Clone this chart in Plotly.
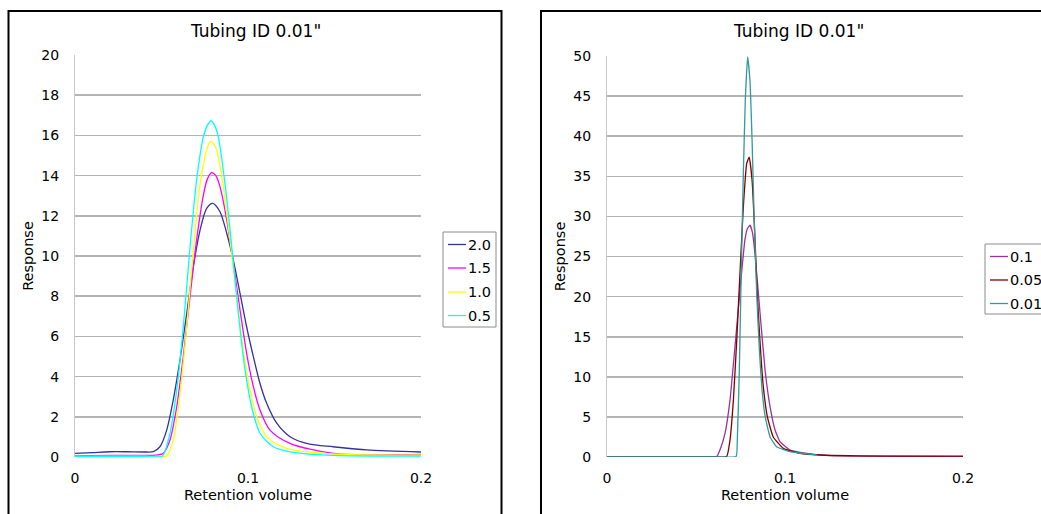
import plotly.graph_objects as go

W, H = 1041, 514

# ---------------- data ----------------
# Left chart: flow-rate series 2.0, 1.5, 1.0, 0.5
x_20 = [0, 0.01, 0.02, 0.03, 0.04, 0.0453, 0.0491, 0.0530, 0.0568, 0.0607, 0.0646, 0.0684, 0.0723,
        0.0761, 0.0796, 0.0838, 0.0877, 0.0915, 0.0954, 0.0992, 0.1031, 0.1069, 0.1108, 0.1166,
        0.1243, 0.1350, 0.1493, 0.1686, 0.2]
y_20 = [0.18, 0.22, 0.26, 0.26, 0.25, 0.27, 0.51, 1.34, 2.84, 4.83, 7.15, 9.47, 11.29,
        12.37, 12.62, 12.2, 11.13, 9.8, 8.14, 6.48, 4.99, 3.67, 2.67, 1.68,
        1.01, 0.65, 0.51, 0.35, 0.25]

x_15 = [0, 0.02, 0.04, 0.0465, 0.0510, 0.0549, 0.0588, 0.0626, 0.0665, 0.0703, 0.0742, 0.0766,
        0.0790, 0.0814, 0.0838, 0.0877, 0.0915, 0.0954, 0.0992, 0.1031, 0.1069, 0.1127, 0.1243,
        0.1493, 0.2]
y_15 = [0.06, 0.08, 0.08, 0.09, 0.18, 0.85, 2.5, 5.0, 8.0, 10.8, 13.03, 13.85,
        14.15, 14.0, 13.45, 11.8, 9.64, 7.31, 5.16, 3.5, 2.34, 1.34, 0.68,
        0.18, 0.13]

x_10 = [0, 0.02, 0.04, 0.0500, 0.0530, 0.0568, 0.0607, 0.0646, 0.0684, 0.0723, 0.0761, 0.0773,
        0.0786, 0.0802, 0.0819, 0.0857, 0.0896, 0.0935, 0.0973, 0.1012, 0.1050, 0.1108, 0.1224,
        0.1491, 0.2]
y_10 = [0.03, 0.04, 0.04, 0.03, 0.05, 0.85, 3.17, 6.48, 10.3, 13.6, 15.27, 15.58,
        15.7, 15.58, 15.27, 13.45, 10.8, 8.0, 5.32, 3.33, 2.0, 1.0, 0.43,
        0.15, 0.1]

x_05 = [0, 0.02, 0.04, 0.0501, 0.0510, 0.0549, 0.0588, 0.0626, 0.0665, 0.0703, 0.0742, 0.0765,
        0.0786, 0.0807, 0.0828, 0.0867, 0.0906, 0.0944, 0.0983, 0.1021, 0.1069, 0.1146, 0.1243,
        0.1493, 0.2]
y_05 = [0.02, 0.02, 0.02, 0.02, 0.1, 1.18, 3.33, 6.48, 10.46, 13.78, 15.94, 16.5,
        16.73, 16.5, 15.94, 13.6, 10.46, 7.15, 4.33, 2.5, 1.18, 0.51, 0.26,
        0.08, 0.05]

# Right chart: series 0.1, 0.05, 0.01
x_01 = [0, 0.03, 0.06, 0.0616, 0.0635, 0.0663, 0.0691, 0.0719, 0.0747, 0.0775, 0.0789, 0.0803,
        0.0817, 0.0831, 0.0860, 0.0888, 0.0916, 0.0944, 0.0972, 0.1028, 0.1122, 0.1234, 0.15, 0.2]
y_01 = [0, 0, 0.02, 0.05, 0.9, 2.95, 7.1, 13.75, 20.8, 27.1, 28.5, 28.9,
        28.0, 25.4, 17.9, 10.85, 6.27, 3.37, 1.91, 0.87, 0.46, 0.2, 0.1, 0.05]

x_005 = [0, 0.03, 0.06, 0.0672, 0.0691, 0.0710, 0.0729, 0.0747, 0.0766, 0.0785, 0.0799, 0.0815,
         0.0830, 0.0844, 0.0860, 0.0878, 0.0901, 0.0934, 0.0990, 0.1084, 0.1197, 0.14, 0.17, 0.2]
y_005 = [0, 0, 0.02, 0.05, 2.1, 7.1, 14.6, 22.9, 31.2, 36.6, 37.4, 34.5,
         27.9, 20.4, 14.2, 8.8, 5.0, 2.5, 1.08, 0.46, 0.25, 0.15, 0.1, 0.1]

x_001 = [0, 0.03, 0.06, 0.0725, 0.0732, 0.0743, 0.0754, 0.0766, 0.0777, 0.0790, 0.0803, 0.0815,
         0.0826, 0.0841, 0.0856, 0.0871, 0.0889, 0.0916, 0.0953, 0.1028, 0.1178]
y_001 = [0, 0, 0.02, 0.05, 2.1, 10.4, 22.9, 35.4, 44.5, 49.9, 47.0, 39.5,
         30.4, 20.4, 13.3, 8.35, 5.0, 2.5, 1.28, 0.66, 0.25]

left_names = ["2.0", "1.5", "1.0", "0.5"]
left_colors = ["#333399", "#ff00ff", "#ffff00", "#00ffff"]
right_names = ["0.1", "0.05", "0.01"]
right_colors = ["#993399", "#800000", "#339999"]

x_ticks = [0, 0.1, 0.2]
x_ticktext = ["0", "0.1", "0.2"]
left_yticks = [0, 2, 4, 6, 8, 10, 12, 14, 16, 18, 20]
right_yticks = [0, 5, 10, 15, 20, 25, 30, 35, 40, 45, 50]
title_text = 'Tubing ID 0.01"'
x_title = "Retention volume"
y_title = "Response"

FONT = "DejaVu Sans"


def fx(px):
    return px / W


def fy(py):
    return 1 - py / H


fig = go.Figure()

left_series = [(x_20, y_20), (x_15, y_15), (x_10, y_10), (x_05, y_05)]
for (xs, ys), name, col in zip(left_series, left_names, left_colors):
    fig.add_trace(go.Scatter(x=xs, y=ys, mode="lines", name=name, xaxis="x", yaxis="y",
                             line=dict(color=col, width=1.3, shape="spline", smoothing=0.8),
                             showlegend=False))

right_series = [(x_01, y_01), (x_005, y_005), (x_001, y_001)]
for (xs, ys), name, col in zip(right_series, right_names, right_colors):
    fig.add_trace(go.Scatter(x=xs, y=ys, mode="lines", name=name, xaxis="x2", yaxis="y2",
                             line=dict(color=col, width=1.3, shape="spline", smoothing=0.4),
                             showlegend=False))

grid = "#b4b4b4"
common_x = dict(range=[0, 0.2], tickvals=x_ticks, ticktext=x_ticktext, showgrid=False,
                zeroline=False, showline=False, ticks="outside", ticklen=8,
                tickcolor="rgba(0,0,0,0)", tickfont=dict(family=FONT, size=14, color="#000"),
                title=dict(text=x_title, font=dict(family=FONT, size=14.5, color="#000"), standoff=5))
common_y = dict(showgrid=True, gridcolor=grid, gridwidth=1.6, zeroline=False,
                showline=True, linecolor="#c8c8c8", linewidth=1, ticks="outside", ticklen=12,
                tickcolor="rgba(0,0,0,0)", tickfont=dict(family=FONT, size=14, color="#000"),
                title=dict(text=y_title, font=dict(family=FONT, size=14.5, color="#000"), standoff=4))

fig.update_layout(
    width=W, height=H,
    margin=dict(l=0, r=0, t=0, b=0, autoexpand=False),
    paper_bgcolor="white", plot_bgcolor="white",
    showlegend=False,
    hovermode=False,
    xaxis=dict(domain=[fx(75), fx(421)], anchor="y", **common_x),
    yaxis=dict(domain=[fy(457), fy(55)], anchor="x", range=[0, 20], tickvals=left_yticks, **common_y),
    xaxis2=dict(domain=[fx(607), fx(963)], anchor="y2", **common_x),
    yaxis2=dict(domain=[fy(457), fy(56)], anchor="x2", range=[0, 50], tickvals=right_yticks, **common_y),
)

shapes = []
annotations = []
# chart frames
shapes.append(dict(type="rect", xref="paper", yref="paper", x0=fx(8.5), x1=fx(501.5), y0=fy(540), y1=fy(11),
                   line=dict(color="#000", width=2), fillcolor="rgba(0,0,0,0)", layer="above"))
shapes.append(dict(type="rect", xref="paper", yref="paper", x0=fx(541), x1=fx(1100), y0=fy(540), y1=fy(11),
                   line=dict(color="#000", width=2), fillcolor="rgba(0,0,0,0)", layer="above"))

# titles
for cx in (255, 798):
    annotations.append(dict(text=title_text, xref="paper", yref="paper", x=fx(cx), y=fy(31),
                            xanchor="center", yanchor="middle", showarrow=False,
                            font=dict(family=FONT, size=17, color="#000")))


def legend(box, items_y, line_x0, line_x1, text_x, names, colors):
    bx0, by0, bx1, by1 = box
    shapes.append(dict(type="rect", xref="paper", yref="paper", x0=fx(bx0), x1=fx(bx1),
                       y0=fy(by1), y1=fy(by0), line=dict(color="#8c8c8c", width=1),
                       fillcolor="white", layer="above"))
    for iy, n, c in zip(items_y, names, colors):
        shapes.append(dict(type="line", xref="paper", yref="paper", x0=fx(line_x0), x1=fx(line_x1),
                           y0=fy(iy), y1=fy(iy), line=dict(color=c, width=1.3), layer="above"))
        annotations.append(dict(text=n, xref="paper", yref="paper", x=fx(text_x), y=fy(iy),
                                xanchor="left", yanchor="middle", showarrow=False,
                                font=dict(family=FONT, size=14.5, color="#000")))


legend((443, 232, 496, 327), [244.5, 268, 292, 315.5], 448, 466, 465.5, left_names, left_colors)
legend((985, 244, 1060, 314), [256.5, 280, 303.5], 990, 1008, 1007.5, right_names, right_colors)

fig.update_layout(shapes=shapes, annotations=annotations)

# remove the browser's default 8px page margin so the figure fills the window exactly
fig.write_html("out.html", config={"displayModeBar": False, "staticPlot": True},
               post_script="document.body.style.margin='0';document.body.style.overflow='hidden';")
